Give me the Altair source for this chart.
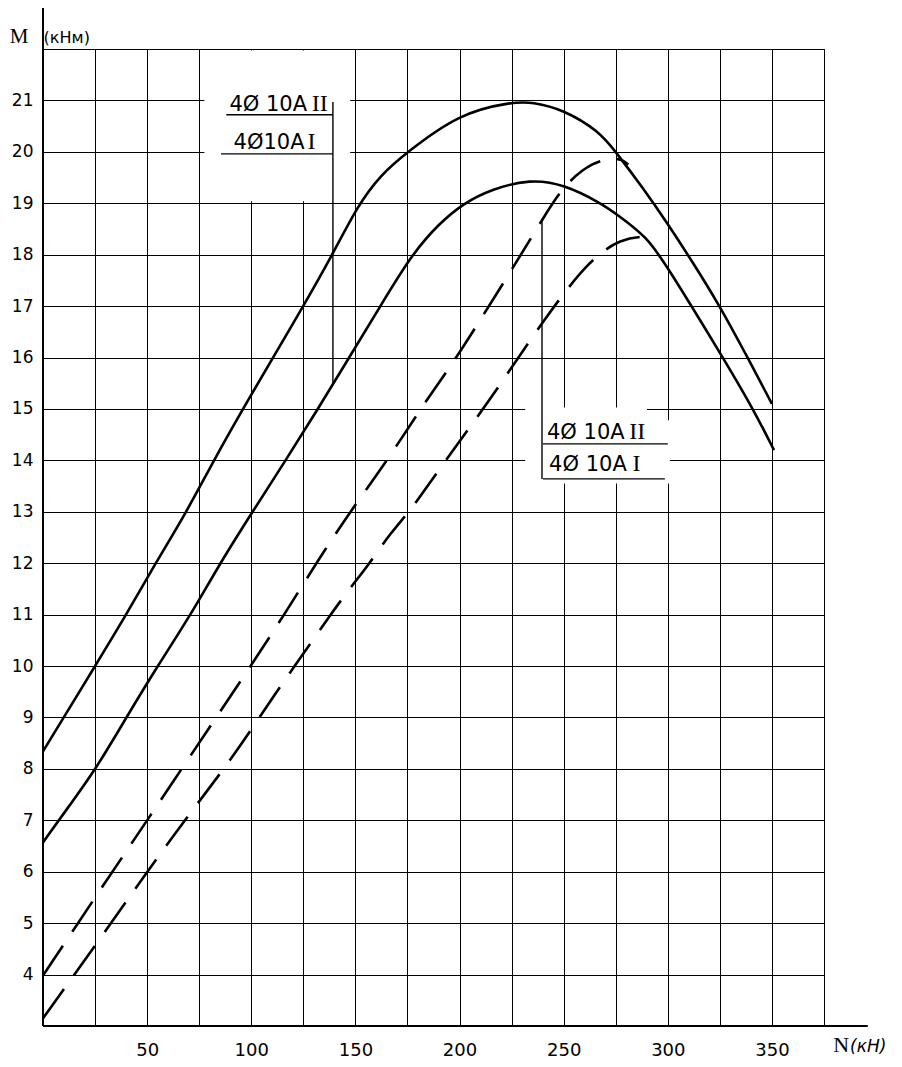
import altair as alt
import pandas as pd

# ---------------- data ----------------
# solid curve, 4Ø10AII
n_solid_a2 = [0, 25, 40, 54, 69, 82, 96, 110, 125, 139, 151, 162, 175, 200, 225, 235, 250, 267, 275, 288, 300, 312, 325, 337, 350]
m_solid_a2 = [8.34, 10.0, 11.0, 12.0, 13.0, 14.0, 15.0, 15.97, 17.0, 18.0, 18.95, 19.55, 20.0, 20.75, 20.97, 20.97, 20.82, 20.4, 20.0, 19.3, 18.6, 17.85, 17.0, 16.1, 15.1]
# solid curve, 4Ø10AI
n_solid_a1 = [0, 12, 25, 40, 55, 71, 85, 100.6, 116.5, 132, 147, 162, 177, 190, 202, 215, 234, 250, 268, 275, 290, 300, 325, 341, 351]
m_solid_a1 = [6.57, 7.25, 7.97, 9.0, 10.0, 11.0, 12.0, 13.0, 14.0, 15.0, 16.0, 17.0, 18.0, 18.6, 19.0, 19.27, 19.47, 19.37, 19.0, 18.8, 18.35, 17.75, 16.1, 15.0, 14.2]
# dashed curve, 4Ø10AII
n_dash_a2 = [0, 25, 50, 84, 103, 119, 135, 151, 167, 182, 197, 211, 228, 240, 250, 264, 277, 281]
m_dash_a2 = [3.98, 5.5, 7.0, 9.05, 10.2, 11.2, 12.25, 13.2, 14.1, 15.05, 15.9, 16.8, 17.9, 18.7, 19.35, 19.82, 19.9, 19.75]
# dashed curve, 4Ø10AI
n_dash_a1 = [0, 25, 50, 68, 86, 99, 113, 120, 138, 149, 156, 167, 177, 188, 209, 220, 239, 262, 278, 289]
m_dash_a1 = [3.15, 4.56, 6.0, 7.0, 7.95, 8.7, 9.55, 9.95, 11.0, 11.6, 11.95, 12.6, 13.05, 13.7, 14.87, 15.5, 16.65, 17.9, 18.32, 18.35]

x_ticks = list(range(0, 376, 25))
y_ticks = list(range(3, 23))

# label texts: body and roman numeral (reinforcement class)
lab_body = ["4Ø 10A", "4Ø10A", "4Ø 10A", "4Ø 10A"]
lab_num = ["II", "I", "II", "I"]
lab_n = [89.5, 91.5, 242, 243]            # left edge of text (N units)
lab_num_n = [129.0, 127.0, 281.5, 283.0]  # left edge of numeral (N units)
lab_m = [20.8, 20.06, 14.41, 13.79]       # baseline (M units)

# label boxes (white background) : n1, n2, m1, m2
box_n1 = [77.5, 231.5, 290]
box_n2 = [147.5, 290, 301]
box_m1 = [19.04, 13.55, 13.55]
box_m2 = [21.97, 15.03, 14.78]

# underline / leader segments : n1, n2, m1, m2
seg_n1 = [88, 85.5, 139.2, 240, 240, 239.6]
seg_n2 = [139.2, 139.2, 139.2, 300, 298.6, 239.6]
seg_m1 = [20.72, 19.96, 20.97, 14.32, 13.64, 18.7]
seg_m2 = [20.72, 19.96, 15.5, 14.32, 13.64, 13.64]

# ---------------- tables ----------------
def curve(ns, ms, name):
    return pd.DataFrame({"N": ns, "M": ms, "series": name})

solid = pd.concat([curve(n_solid_a2, m_solid_a2, "a2"), curve(n_solid_a1, m_solid_a1, "a1")])
dashed = pd.concat([curve(n_dash_a2, m_dash_a2, "a2"), curve(n_dash_a1, m_dash_a1, "a1")])
boxes = pd.DataFrame({"N": box_n1, "N2": box_n2, "M": box_m1, "M2": box_m2})
segs = pd.DataFrame({"N": seg_n1, "N2": seg_n2, "M": seg_m1, "M2": seg_m2})
labels_body = pd.DataFrame({"N": lab_n, "M": lab_m, "t": lab_body})
labels_num = pd.DataFrame({"N": lab_num_n, "M": lab_m, "t": lab_num})
axis_ext = pd.DataFrame({"N": [0, 0], "N2": [0, 396], "M": [3, 3], "M2": [22.8, 3]})

xscale = alt.Scale(domain=[0, 375], nice=False, zero=False)
yscale = alt.Scale(domain=[3, 22], nice=False, zero=False)

xaxis = alt.Axis(
    values=x_ticks, grid=True, gridColor="black", gridOpacity=1, gridWidth=1,
    ticks=False, domain=False, title=None,
    labelExpr="datum.value % 50 == 0 && datum.value > 0 && datum.value < 375 ? datum.label : ''",
    labelFont="DejaVu Sans", labelFontSize=18, labelColor="black", labelPadding=15,
)
yaxis = alt.Axis(
    values=y_ticks, grid=True, gridColor="black", gridOpacity=1, gridWidth=1,
    ticks=False, domain=False, title=None,
    labelExpr="datum.value >= 4 && datum.value <= 21 ? datum.label : ''",
    labelFont="DejaVu Sans", labelFontSize=17, labelColor="black", labelPadding=10,
)

X = alt.X("N:Q", scale=xscale, axis=xaxis)
Y = alt.Y("M:Q", scale=yscale, axis=yaxis)

rects = alt.Chart(boxes).mark_rect(color="white").encode(x=X, x2="N2:Q", y=Y, y2="M2:Q")

solid_lines = alt.Chart(solid).mark_line(color="black", strokeWidth=2.6, interpolate="basis").encode(
    x=X, y=Y, detail="series:N")
dashed_lines = alt.Chart(dashed).mark_line(color="black", strokeWidth=2.6, interpolate="basis",
                                           strokeDash=[36, 17]).encode(x=X, y=Y, detail="series:N")

seg_rules = alt.Chart(segs).mark_rule(color="black", strokeWidth=1.4).encode(x=X, x2="N2:Q", y=Y, y2="M2:Q")
ext_rules = alt.Chart(axis_ext).mark_rule(color="black", strokeWidth=2).encode(x=X, x2="N2:Q", y=Y, y2="M2:Q")

body_texts = alt.Chart(labels_body).mark_text(align="left", baseline="alphabetic", font="DejaVu Sans",
                                              fontSize=21, color="black").encode(x=X, y=Y, text="t:N")
num_texts = alt.Chart(labels_num).mark_text(align="left", baseline="alphabetic", font="Liberation Serif",
                                            fontSize=24, color="black").encode(x=X, y=Y, text="t:N")

title_m = alt.Chart(pd.DataFrame({"N": [-11.5], "M": [22.12], "t": ["M"]})).mark_text(
    align="center", baseline="alphabetic", font="Liberation Serif", fontSize=21, color="black"
).encode(x=X, y=Y, text="t:N")
title_m_unit = alt.Chart(pd.DataFrame({"N": [0.3], "M": [22.12], "t": ["(кНм)"]})).mark_text(
    align="left", baseline="alphabetic", font="DejaVu Sans", fontSize=16, color="black"
).encode(x=X, y=Y, text="t:N")
title_n = alt.Chart(pd.DataFrame({"N": [379.5], "M": [2.5], "t": ["N"]})).mark_text(
    align="left", baseline="alphabetic", font="Liberation Serif", fontSize=22, color="black"
).encode(x=X, y=Y, text="t:N")
title_n_unit = alt.Chart(pd.DataFrame({"N": [387.5], "M": [2.5], "t": ["(кН)"]})).mark_text(
    align="left", baseline="alphabetic", font="DejaVu Sans", fontSize=17, fontStyle="italic", color="black"
).encode(x=X, y=Y, text="t:N")

chart = alt.layer(
    rects, solid_lines, dashed_lines, seg_rules, ext_rules, body_texts, num_texts,
    title_m, title_m_unit, title_n, title_n_unit,
).properties(
    width=781, height=977,
    padding={"left": 35, "top": 41, "right": 70, "bottom": 33},
    autosize=alt.AutoSizeParams(type="none"),
    background="white",
).configure_view(stroke="black", strokeWidth=1)

chart.save("out.html", embed_options={"renderer": "svg", "actions": False})
